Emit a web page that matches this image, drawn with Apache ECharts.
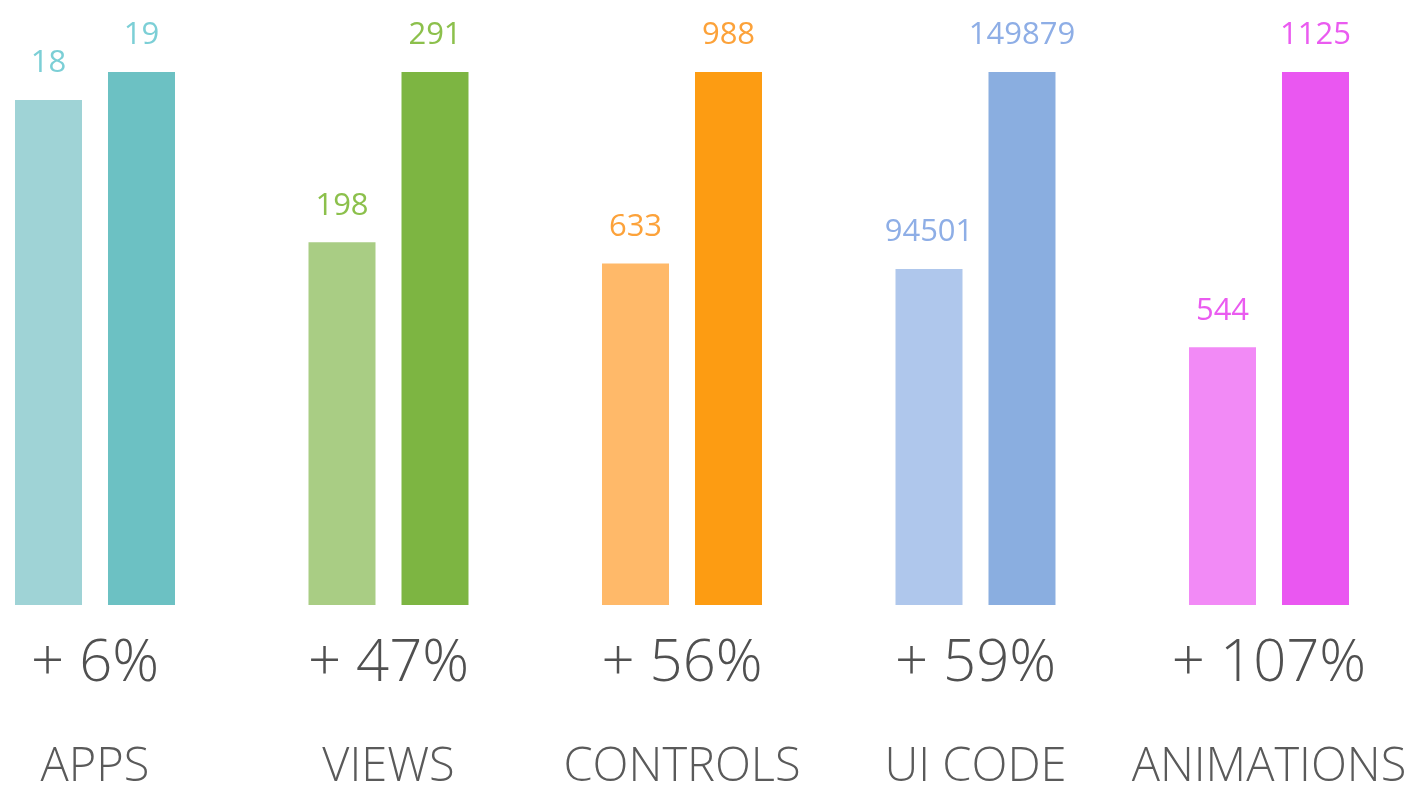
<!DOCTYPE html>
<html>
<head>
<meta charset="utf-8">
<script src="https://cdn.jsdelivr.net/npm/echarts@6/dist/echarts.min.js"></script>
<style>
html,body{margin:0;padding:0;background:#fff;}
#chart{width:1412px;height:790px;}
</style>
</head>
<body>
<div id="chart"></div>
<script>
const categories = ['APPS', 'VIEWS', 'CONTROLS', 'UI CODE', 'ANIMATIONS'];
const oldValues = [18, 198, 633, 94501, 544];
const newValues = [19, 291, 988, 149879, 1125];
const changeLabels = ['+ 6%', '+ 47%', '+ 56%', '+ 59%', '+ 107%'];
const lightColors = ['#9fd3d6', '#a9cd84', '#ffb969', '#afc7ec', '#f28af6'];
const darkColors = ['#6cc1c3', '#7db542', '#fd9c12', '#8aaee0', '#ea57f1'];
const labelColors = ['#7ccfd6', '#8cc04c', '#fca23a', '#8eaee6', '#ea5bf0'];

const FONT = '"Open Sans", "Noto Sans", sans-serif';
const grids = [], xAxes = [], yAxes = [], series = [];
categories.forEach((cat, i) => {
  grids.push({ left: 15 + 293.5 * i, width: 160, top: 72, bottom: 185, outerBoundsMode: 'none', containLabel: false });
  xAxes.push({
    type: 'category', gridIndex: i, data: [cat],
    axisLine: { show: false }, axisTick: { show: false }, splitLine: { show: false },
    axisLabel: {
      margin: 14, interval: 0,
      formatter: () => '{pct|' + changeLabels[i] + '}\n{name|' + cat + '}',
      rich: {
        pct: { fontSize: 58, fontFamily: FONT, fontWeight: 300, color: '#505050', lineHeight: 90 },
        name: { fontSize: 47, fontFamily: FONT, fontWeight: 300, color: '#5a5a5a', lineHeight: 118 }
      }
    }
  });
  yAxes.push({ type: 'value', gridIndex: i, min: 0, max: newValues[i], show: false, splitLine: { show: false } });
  const lbl = { show: true, position: 'top', distance: 21, color: labelColors[i], fontSize: 31, fontFamily: FONT, fontWeight: 400 };
  series.push({
    type: 'bar', xAxisIndex: i, yAxisIndex: i, data: [oldValues[i]],
    barWidth: 67, barGap: '38.8%', itemStyle: { color: lightColors[i] }, label: lbl
  });
  series.push({
    type: 'bar', xAxisIndex: i, yAxisIndex: i, data: [newValues[i]],
    barWidth: 67, barGap: '38.8%', itemStyle: { color: darkColors[i] }, label: lbl
  });
});

const chart = echarts.init(document.getElementById('chart'), null, { renderer: 'canvas' });
chart.setOption({
  animation: false,
  backgroundColor: '#ffffff',
  grid: grids, xAxis: xAxes, yAxis: yAxes, series: series
});
</script>
</body>
</html>
